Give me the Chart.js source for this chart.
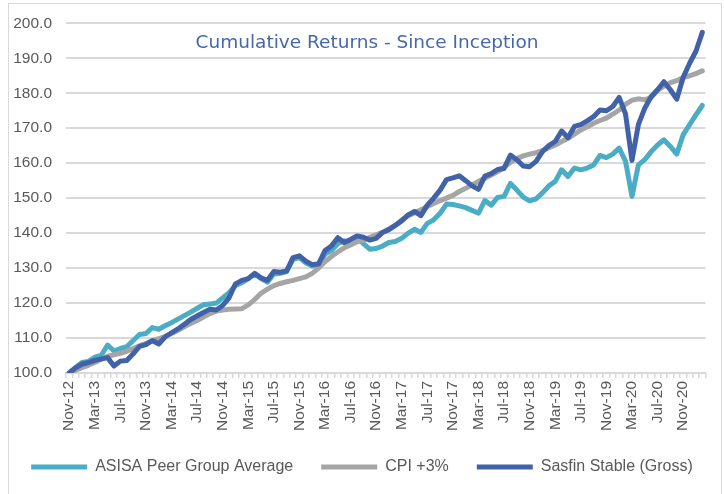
<!DOCTYPE html>
<html>
<head>
<meta charset="utf-8">
<title>Cumulative Returns - Since Inception</title>
<script src="https://cdn.jsdelivr.net/npm/chart.js@4"></script>
<style>
  html, body { margin: 0; padding: 0; background: #fff; overflow: hidden; }
  #wrap { position: relative; width: 724px; height: 494px; }
  #frame { position: absolute; left: 8px; top: 3px; width: 714px; height: 520px;
           border: 1.5px solid #d9d9d9; box-sizing: border-box; }
  #chart { position: absolute; left: 0; top: 0; }
</style>
</head>
<body>
<div id="wrap">
  <div id="frame"></div>
  <canvas id="chart" width="724" height="494"></canvas>
</div>
<script>
const titleText = 'Cumulative Returns - Since Inception';

// monthly categories, Nov-12 .. Feb-21
const months = [
  'Nov-12', 'Dec-12',
  'Jan-13', 'Feb-13', 'Mar-13', 'Apr-13', 'May-13', 'Jun-13', 'Jul-13', 'Aug-13', 'Sep-13', 'Oct-13', 'Nov-13', 'Dec-13',
  'Jan-14', 'Feb-14', 'Mar-14', 'Apr-14', 'May-14', 'Jun-14', 'Jul-14', 'Aug-14', 'Sep-14', 'Oct-14', 'Nov-14', 'Dec-14',
  'Jan-15', 'Feb-15', 'Mar-15', 'Apr-15', 'May-15', 'Jun-15', 'Jul-15', 'Aug-15', 'Sep-15', 'Oct-15', 'Nov-15', 'Dec-15',
  'Jan-16', 'Feb-16', 'Mar-16', 'Apr-16', 'May-16', 'Jun-16', 'Jul-16', 'Aug-16', 'Sep-16', 'Oct-16', 'Nov-16', 'Dec-16',
  'Jan-17', 'Feb-17', 'Mar-17', 'Apr-17', 'May-17', 'Jun-17', 'Jul-17', 'Aug-17', 'Sep-17', 'Oct-17', 'Nov-17', 'Dec-17',
  'Jan-18', 'Feb-18', 'Mar-18', 'Apr-18', 'May-18', 'Jun-18', 'Jul-18', 'Aug-18', 'Sep-18', 'Oct-18', 'Nov-18', 'Dec-18',
  'Jan-19', 'Feb-19', 'Mar-19', 'Apr-19', 'May-19', 'Jun-19', 'Jul-19', 'Aug-19', 'Sep-19', 'Oct-19', 'Nov-19', 'Dec-19',
  'Jan-20', 'Feb-20', 'Mar-20', 'Apr-20', 'May-20', 'Jun-20', 'Jul-20', 'Aug-20', 'Sep-20', 'Oct-20', 'Nov-20', 'Dec-20',
  'Jan-21', 'Feb-21'
];

const asisaPeer = [
  100.0, 101.5,
  103.0, 103.3, 104.5, 105.0, 108.0, 106.3, 107.0, 107.5, 109.3, 111.0, 111.3, 113.0,
  112.5, 113.5, 114.4, 115.4, 116.4, 117.4, 118.5, 119.5, 119.7, 120.0, 121.5, 123.0,
  125.0, 125.8, 127.0, 128.3, 127.0, 126.0, 128.3, 128.5, 129.0, 132.5, 133.0, 131.5,
  130.6, 130.8, 134.0, 135.0, 137.0, 137.8, 136.8, 138.8, 137.0, 135.4, 135.6, 136.3,
  137.3, 137.6, 138.5, 140.0, 141.1, 140.2, 142.8, 143.8, 145.7, 148.3, 148.2, 147.8,
  147.3, 146.5, 145.7, 149.3, 148.0, 150.2, 150.5, 154.2, 152.3, 150.3, 149.2, 149.8,
  151.5, 153.5, 154.8, 158.1, 156.2, 158.6, 158.1, 158.6, 159.5, 162.2, 161.6, 162.6,
  164.3, 160.5, 150.5, 159.5, 161.0, 163.3, 165.2, 166.7, 164.8, 162.6, 168.1, 171.0,
  173.8, 176.5
];

const cpiPlus3 = [
  100.0, 100.8,
  101.5, 102.2, 103.0, 104.0, 104.8, 105.2, 105.6, 106.2, 107.0, 107.8, 108.5, 109.2,
  109.8, 110.5, 111.3, 112.2, 113.2, 114.2, 115.0, 116.0, 117.0, 117.7, 118.0, 118.2,
  118.3, 118.4, 119.5, 121.0, 122.8, 124.0, 125.0, 125.6, 126.1, 126.5, 127.0, 127.5,
  128.5, 130.0, 131.8, 133.3, 134.6, 135.8, 136.6, 137.5, 138.0, 138.8, 139.5, 140.2,
  141.2, 142.3, 143.8, 145.0, 145.8, 146.7, 147.6, 148.5, 149.3, 150.0, 150.8, 151.9,
  152.8, 153.8, 154.8, 155.7, 156.6, 157.6, 158.8, 160.2, 161.3, 162.1, 162.6, 163.0,
  163.6, 164.4, 165.2, 166.2, 167.1, 168.3, 169.5, 170.4, 171.4, 172.2, 172.9, 174.0,
  175.2, 176.8, 178.0, 178.4, 178.1, 178.8, 180.8, 182.0, 183.0, 183.6, 184.5, 185.0,
  185.6, 186.4
];

const sasfinStable = [
  100.0, 101.5,
  102.5, 103.0, 103.6, 104.0, 104.4, 102.0, 103.4, 103.6, 105.5, 107.6, 108.1, 109.3,
  108.3, 110.3, 111.5, 112.6, 113.9, 115.3, 116.3, 117.3, 118.2, 118.0, 119.3, 121.5,
  125.5, 126.5, 127.0, 128.5, 127.2, 126.5, 129.0, 128.8, 129.2, 133.0, 133.5, 132.0,
  131.0, 131.2, 135.0, 136.3, 138.7, 137.3, 138.2, 139.2, 138.8, 138.0, 138.5, 140.2,
  141.0, 142.2, 143.5, 145.2, 146.2, 145.0, 148.0, 150.0, 152.3, 155.3, 155.8, 156.4,
  155.0, 153.5, 152.5, 156.3, 157.0, 158.2, 158.5, 162.3, 161.0, 159.2, 159.0, 160.5,
  163.3, 165.0, 166.2, 169.2, 167.3, 170.5, 171.0, 172.1, 173.3, 175.2, 175.0, 176.2,
  178.8, 174.0, 160.8, 171.0, 175.7, 179.0, 181.0, 183.3, 181.0, 178.3, 184.5, 188.5,
  192.0, 197.4
];

const textFont = '"Liberation Sans", Arial, sans-serif';
const textColor = '#595959';
const gridColor = '#d9d9d9';

// title sits inside the plot, between the two top grid lines
const chartTitle = {
    id: 'chartTitle',
    afterDraw(chart) {
        const { ctx, chartArea } = chart;
        ctx.save();
        ctx.font = '18.5px Verdana, "DejaVu Sans", sans-serif';
        ctx.fillStyle = '#4668a9';
        ctx.textAlign = 'center';
        ctx.textBaseline = 'alphabetic';
        ctx.fillText(titleText, chart.width / 2 + 5, chartArea.top + 25);
        ctx.restore();
    }
};

const lineStyle = { borderWidth: 5, borderJoinStyle: 'round', borderCapStyle: 'round', pointRadius: 0, fill: false };

const ctx = document.getElementById('chart').getContext('2d');

new Chart(ctx, {
    type: 'line',
    data: {
        labels: months,
        datasets: [
            { label: 'ASISA Peer Group Average', data: asisaPeer, borderColor: '#4bacc6', backgroundColor: '#4bacc6', order: 2, ...lineStyle },
            { label: 'CPI +3%', data: cpiPlus3, borderColor: '#a5a5a5', backgroundColor: '#a5a5a5', order: 1, ...lineStyle },
            { label: 'Sasfin Stable (Gross)', data: sasfinStable, borderColor: '#4162a8', backgroundColor: '#4162a8', order: 0, ...lineStyle }
        ]
    },
    options: {
        responsive: false,
        animation: false,
        // no side padding so the legend gets the full width; the axes reserve the margins
        layout: { padding: { left: 0, right: 0, top: 9, bottom: 9 } },
        elements: { line: { tension: 0 }, point: { hoverRadius: 0 } },
        scales: {
            x: {
                offset: true,
                grid: { drawOnChartArea: false, drawTicks: true, tickLength: 5, offset: true, color: gridColor, lineWidth: 1.5 },
                border: { display: true, color: gridColor, width: 2 },
                ticks: {
                    autoSkip: false,
                    minRotation: 90,
                    maxRotation: 90,
                    padding: 3,
                    color: textColor,
                    font: { family: textFont, size: 15.5 },
                    callback: function (value, index) {
                        return index % 4 === 0 ? this.getLabelForValue(value) : '';
                    }
                },
                afterFit: (scale) => { scale.height = 58; }
            },
            y: {
                min: 100,
                max: 200,
                grid: { drawTicks: false, color: gridColor, lineWidth: 2 },
                border: { display: false },
                ticks: {
                    stepSize: 10,
                    padding: 14,
                    color: textColor,
                    font: { family: textFont, size: 15.5 },
                    callback: (v) => v.toFixed(1)
                },
                afterFit: (scale) => { scale.width = 66; }
            },
            // empty right-hand axis, only keeps the plot clear of the frame
            yRight: {
                position: 'right',
                grid: { display: false },
                border: { display: false },
                ticks: { display: false },
                afterFit: (scale) => { scale.width = 18; }
            }
        },
        plugins: {
            legend: {
                position: 'bottom',
                labels: {
                    usePointStyle: true,
                    pointStyle: 'line',
                    pointStyleWidth: 56,
                    padding: 28,
                    color: textColor,
                    font: { family: textFont, size: 16 },
                    sort: (a, b) => a.datasetIndex - b.datasetIndex
                }
            },
            tooltip: { enabled: false }
        }
    },
    plugins: [chartTitle]
});
</script>
</body>
</html>
